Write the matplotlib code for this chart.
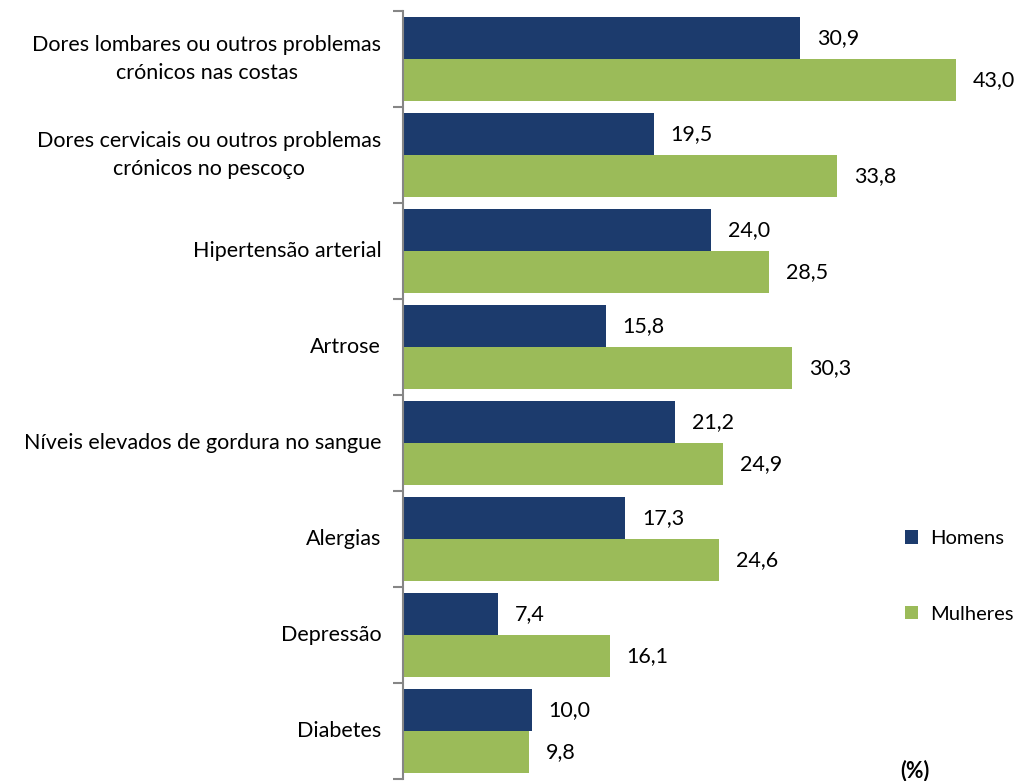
import matplotlib.pyplot as plt
import numpy as np

categorias = [
    "Dores lombares ou outros problemas\ncrónicos nas costas",
    "Dores cervicais ou outros problemas\ncrónicos no pescoço",
    "Hipertensão arterial",
    "Artrose",
    "Níveis elevados de gordura no sangue",
    "Alergias",
    "Depressão",
    "Diabetes",
]
homens = [30.9, 19.5, 24.0, 15.8, 21.2, 17.3, 7.4, 10.0]
mulheres = [43.0, 33.8, 28.5, 30.3, 24.9, 24.6, 16.1, 9.8]

cor_h = "#1C3B6D"
cor_m = "#9BBB59"
fs = 15.5

plt.rcParams['font.family'] = ['Lato', 'DejaVu Sans']

W, H = 1021, 781
fig = plt.figure(figsize=(W / 100, H / 100), dpi=100)
ax = fig.add_axes([403 / W, 2 / H, 618 / W, 768 / H])

n = len(categorias)
y = np.arange(n)
bh = 0.44
ax.barh(y - bh / 2, homens, height=bh, color=cor_h, label="Homens")
ax.barh(y + bh / 2, mulheres, height=bh, color=cor_m, label="Mulheres")

ax.set_ylim(n - 0.5, -0.5)
ax.set_xlim(0, 618 / 12.85)

def fmt(v):
    return f"{v:.1f}".replace(".", ",")

for i in range(n):
    ax.text(homens[i] + 1.3, y[i] - bh / 2, fmt(homens[i]), va="center", ha="left", fontsize=fs)
    ax.text(mulheres[i] + 1.3, y[i] + bh / 2, fmt(mulheres[i]), va="center", ha="left", fontsize=fs)
    ax.text(-1.7, y[i], categorias[i], va="center", ha="right", multialignment="center",
            fontsize=fs, linespacing=1.45)

# ticks at category boundaries
ax.set_yticks(np.arange(n + 1) - 0.5)
ax.set_yticklabels([])
ax.tick_params(axis="y", length=7, width=1.5, color="#868686", direction="out")
ax.set_xticks([])
for s in ["top", "right", "bottom"]:
    ax.spines[s].set_visible(False)
ax.spines["left"].set_color("#868686")
ax.spines["left"].set_linewidth(1.5)

leg = ax.legend(loc="upper left", bbox_to_anchor=(887 / W, 1 - 512 / H), bbox_transform=fig.transFigure,
                frameon=False, fontsize=14.5, handlelength=0.65, handleheight=0.65,
                handletextpad=0.6, labelspacing=2.9)

fig.text(915 / W, 1 - 771 / H, "(%)", fontsize=fs, fontweight="bold", ha="center", va="center")

plt.savefig("out.png", dpi=100)
